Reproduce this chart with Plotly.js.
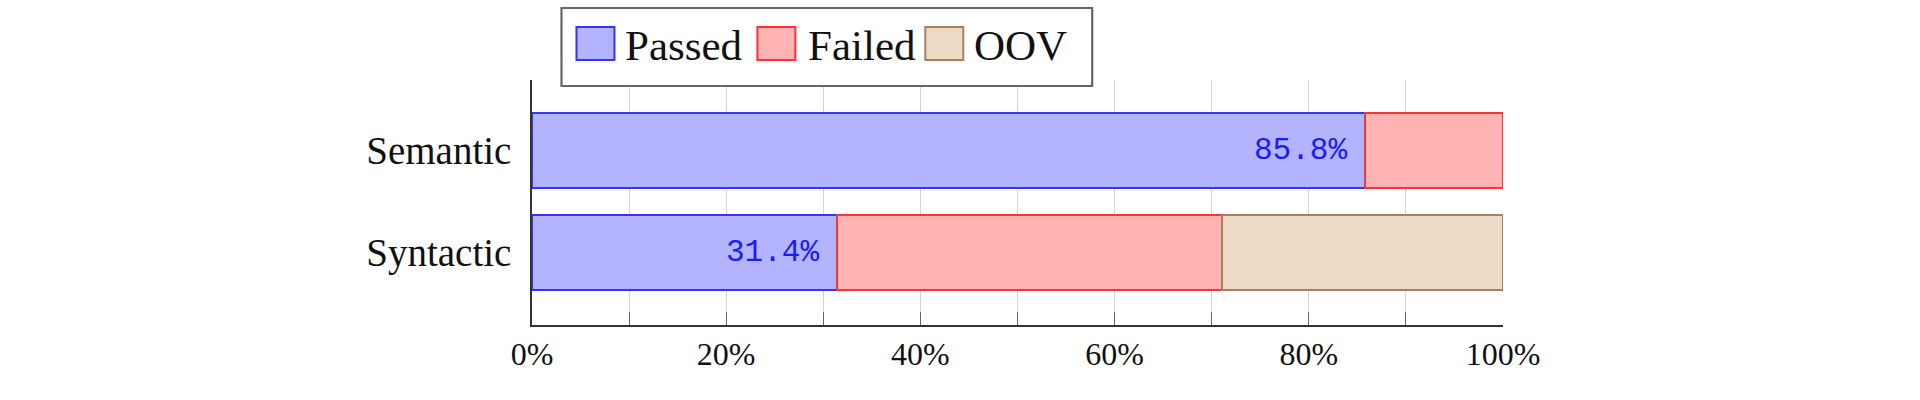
<!DOCTYPE html>
<html>
<head>
<meta charset="utf-8">
<script src="https://cdn.plot.ly/plotly-3.0.1.min.js"></script>
<style>html,body{margin:0;padding:0;background:#fff;}#chart{width:1920px;height:400px;}</style>
</head>
<body>
<div id="chart"></div>
<script>
// ---- data ----
var categories = ['Semantic', 'Syntactic'];
var seriesNames = ['Passed', 'Failed', 'OOV'];
var passed = [85.8, 31.4];
var failed = [14.2, 39.7];
var oov = [0, 28.9];
var xTickValues = [0, 10, 20, 30, 40, 50, 60, 70, 80, 90, 100];
var xTickLabels = ['0%', '', '20%', '', '40%', '', '60%', '', '80%', '', '100%'];

// ---- styles ----
var fills = ['#b3b3ff', '#ffb3b3', '#ecd9c6'];
var borders = ['#3333ff', '#ff3333', '#a88060'];
var seriesValues = [passed, failed, oov];

var L = 531.5, R = 1503, T = 80, B = 325;
function px(x) { return (x - L) / (R - L); }
function py(y) { return (B - y) / (B - T); }

var traces = seriesValues.map(function (vals, i) {
  return {
    type: 'bar',
    orientation: 'h',
    name: seriesNames[i],
    y: categories,
    x: vals.map(function (v) { return v === 0 ? null : v; }),
    width: 0.74,
    marker: { color: fills[i], line: { color: borders[i], width: 1.8 } },
    hoverinfo: 'skip',
    showlegend: false
  };
});

var annotations = passed.map(function (v, i) {
  return {
    x: v, y: categories[i], xref: 'x', yref: 'y',
    text: v.toFixed(1) + '%',
    showarrow: false, xanchor: 'right', yanchor: 'middle', xshift: -16,
    font: { family: 'Liberation Mono, DejaVu Sans Mono, monospace', size: 31, color: '#1a1aff' }
  };
});

var shapes = [{
  type: 'rect', xref: 'paper', yref: 'paper', layer: 'above',
  x0: px(561), x1: px(1092), y0: py(86), y1: py(8),
  line: { color: '#666', width: 2.2 }, fillcolor: '#ffffff'
}];

var swatchX = [576, 757, 925];
var textX = [623, 806, 972];
seriesNames.forEach(function (n, i) {
  shapes.push({
    type: 'rect', xref: 'paper', yref: 'paper', layer: 'above',
    x0: px(swatchX[i]), x1: px(swatchX[i] + 38), y0: py(60), y1: py(27),
    line: { color: borders[i], width: 2 }, fillcolor: fills[i]
  });
  annotations.push({
    x: px(textX[i]), y: py(45), xref: 'paper', yref: 'paper',
    text: n, showarrow: false, xanchor: 'left', yanchor: 'middle',
    font: { family: 'Liberation Serif, serif', size: 43, color: '#111' }
  });
});

var layout = {
  width: 1920, height: 400,
  margin: { l: L, r: 1920 - R, t: T, b: 400 - B, pad: 0 },
  paper_bgcolor: '#fff', plot_bgcolor: '#fff',
  barmode: 'stack',
  showlegend: false,
  xaxis: {
    range: [0, 100], fixedrange: true,
    tickvals: xTickValues, ticktext: xTickLabels,
    showgrid: true, gridcolor: '#d4d4d4', gridwidth: 1,
    ticks: 'inside', ticklen: 13, tickcolor: '#666', tickwidth: 1,
    showline: true, linecolor: '#333', linewidth: 1.8,
    zeroline: false,
    tickfont: { family: 'Liberation Serif, serif', size: 32, color: '#111' }
  },
  yaxis: {
    type: 'category', categoryorder: 'array', categoryarray: categories,
    range: [1.71, -0.69], fixedrange: true,
    showgrid: false, ticks: '', showline: true, linecolor: '#333', linewidth: 1.8,
    zeroline: false, ticklabelstandoff: 11,
    tickfont: { family: 'Liberation Serif, serif', size: 39, color: '#111' }
  },
  shapes: shapes,
  annotations: annotations
};

Plotly.newPlot('chart', traces, layout, { staticPlot: true, displayModeBar: false });
</script>
</body>
</html>
